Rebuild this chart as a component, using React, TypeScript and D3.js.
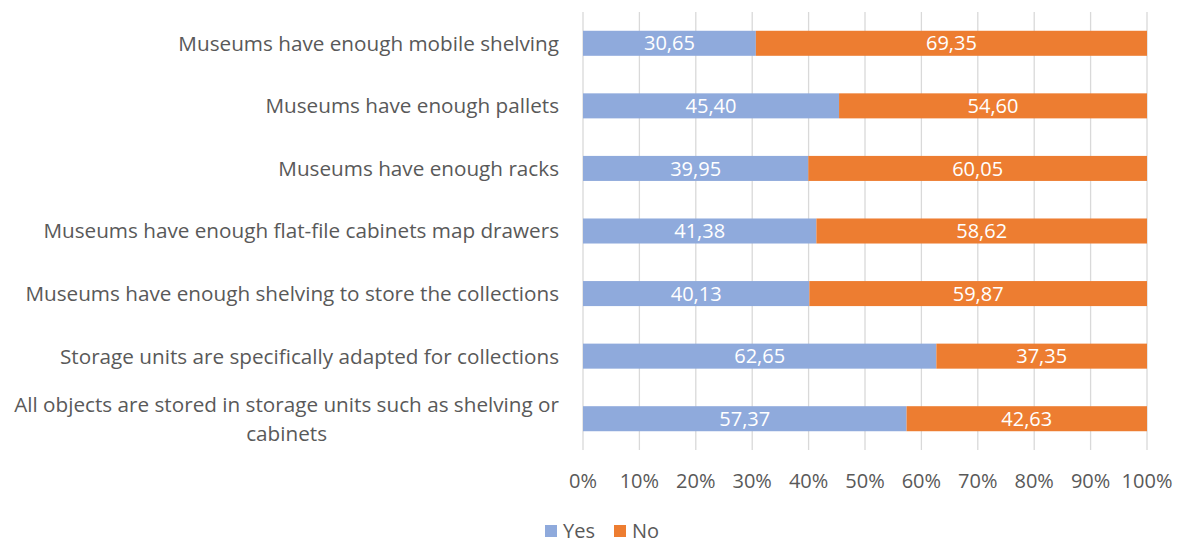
import { useEffect, useRef } from 'react';
import * as d3 from 'd3';

const categories = [
  'Museums have enough mobile shelving',
  'Museums have enough pallets',
  'Museums have enough racks',
  'Museums have enough flat-file cabinets map drawers',
  'Museums have enough shelving to store the collections',
  'Storage units are specifically adapted for collections',
  'All objects are stored in storage units such as shelving or cabinets',
];
const categoryLines = [
  ['Museums have enough mobile shelving'],
  ['Museums have enough pallets'],
  ['Museums have enough racks'],
  ['Museums have enough flat-file cabinets map drawers'],
  ['Museums have enough shelving to store the collections'],
  ['Storage units are specifically adapted for collections'],
  ['All objects are stored in storage units such as shelving or', 'cabinets'],
];
const yesValues = [30.65, 45.4, 39.95, 41.38, 40.13, 62.65, 57.37];
const noValues = [69.35, 54.6, 60.05, 58.62, 59.87, 37.35, 42.63];
const xTicks = [0, 10, 20, 30, 40, 50, 60, 70, 80, 90, 100];
const seriesNames = ['Yes', 'No'];
const seriesColors = ['#8FAADC', '#ED7D31'];

const W = 1180;
const H = 543;
const FONT = '"Open Sans", sans-serif';

export default function App() {
  const svgRef = useRef<SVGSVGElement>(null);

  useEffect(() => {
    if (!svgRef.current) return;
    const svg = d3.select(svgRef.current);
    svg.selectAll('*').remove();

    const margin = { top: 12, left: 583, right: 33, bottom: 93 };
    const x = d3.scaleLinear().domain([0, 100]).range([margin.left, W - margin.right]);
    const y = d3.scaleBand()
      .domain(categories)
      .range([margin.top, H - margin.bottom])
      .paddingInner(0.6)
      .paddingOuter(0.3);

    const fmt = (v: number) => d3.format('.2f')(v).replace('.', ',');

    // gridlines
    svg.append('g')
      .selectAll('line')
      .data(xTicks)
      .join('line')
      .attr('x1', (d) => x(d))
      .attr('x2', (d) => x(d))
      .attr('y1', margin.top)
      .attr('y2', H - margin.bottom)
      .attr('stroke', '#D9D9D9')
      .attr('stroke-width', 1.3);

    // stacked bars
    const rows = categories.map((c, i) => ({ c, yes: yesValues[i], no: noValues[i] }));
    const stack = d3.stack<any>().keys(['yes', 'no'])(rows);

    stack.forEach((layer, si) => {
      const g = svg.append('g');
      g.selectAll('rect')
        .data(layer)
        .join('rect')
        .attr('x', (d) => x(d[0]))
        .attr('width', (d) => x(d[1]) - x(d[0]))
        .attr('y', (d) => y(d.data.c)!)
        .attr('height', y.bandwidth())
        .attr('fill', seriesColors[si]);
      g.selectAll('text')
        .data(layer)
        .join('text')
        .attr('x', (d) => (x(d[0]) + x(d[1])) / 2)
        .attr('y', (d) => y(d.data.c)! + y.bandwidth() / 2)
        .attr('dy', '0.36em')
        .attr('text-anchor', 'middle')
        .attr('fill', '#FFFFFF')
        .attr('font-family', FONT)
        .attr('font-size', 20)
        .text((d) => fmt(d[1] - d[0]));
    });

    // category labels
    const labelRight = margin.left - 24;
    const lineH = 29;
    categories.forEach((c, i) => {
      const lines = categoryLines[i];
      const cy = y(c)! + y.bandwidth() / 2;
      const t = svg.append('text')
        .attr('font-family', FONT)
        .attr('font-size', 20.7)
        .attr('fill', '#595959');
      lines.forEach((ln, li) => {
        t.append('tspan')
          .attr('y', cy + (li - (lines.length - 1) / 2) * lineH)
          .attr('dy', '0.36em')
          .text(ln);
      });
      const spans = t.selectAll<SVGTSpanElement, unknown>('tspan').nodes();
      const maxW = d3.max(spans, (n) => n.getComputedTextLength()) || 0;
      if (lines.length > 1) {
        t.attr('text-anchor', 'middle');
        t.selectAll('tspan').attr('x', labelRight - maxW / 2);
      } else {
        t.attr('text-anchor', 'end');
        t.selectAll('tspan').attr('x', labelRight);
      }
    });

    // x tick labels
    svg.append('g')
      .selectAll('text')
      .data(xTicks)
      .join('text')
      .attr('x', (d) => x(d))
      .attr('y', 481)
      .attr('dy', '0.36em')
      .attr('text-anchor', 'middle')
      .attr('font-family', FONT)
      .attr('font-size', 20)
      .attr('fill', '#595959')
      .text((d) => `${d}%`);

    // legend
    const legend = svg.append('g').attr('transform', 'translate(545,531)');
    const legendX = [0, 69];
    seriesNames.forEach((name, i) => {
      const lg = legend.append('g').attr('transform', `translate(${legendX[i]},0)`);
      lg.append('rect')
        .attr('x', 0)
        .attr('y', -6)
        .attr('width', 12)
        .attr('height', 12)
        .attr('fill', seriesColors[i]);
      lg.append('text')
        .attr('x', 18)
        .attr('y', 0)
        .attr('dy', '0.36em')
        .attr('font-family', FONT)
        .attr('font-size', 20)
        .attr('fill', '#595959')
        .text(name);
    });
  }, []);

  return (
    <div style={{ position: 'fixed', left: 0, top: 0, background: '#fff' }}>
      <svg ref={svgRef} width={W} height={H} style={{ display: 'block' }} />
    </div>
  );
}
